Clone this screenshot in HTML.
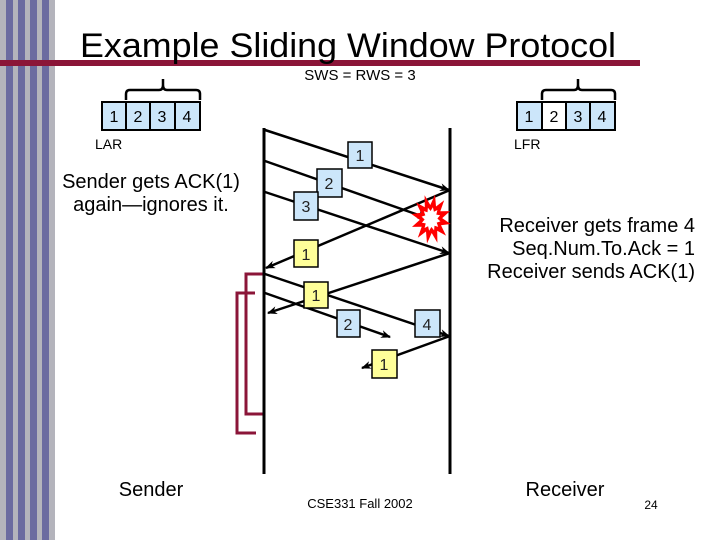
<!DOCTYPE html>
<html><head><meta charset="utf-8"><style>
html,body{margin:0;padding:0;background:#fff;}
svg{display:block;font-family:"Liberation Sans",sans-serif;}
</style></head><body>
<svg id="s" width="720" height="540" viewBox="0 0 720 540" xmlns="http://www.w3.org/2000/svg">
<defs>
<marker id="a" markerWidth="10" markerHeight="8" refX="9" refY="4" orient="auto" markerUnits="userSpaceOnUse"><path d="M0,0 L10,4 L0,8 L3,4 z" fill="#000"/></marker>
</defs>
<rect x="0" y="0" width="55" height="540" fill="#b4b4bc"/>
<rect x="6" y="0" width="7" height="540" fill="#6b6ba0"/>
<rect x="18" y="0" width="7" height="540" fill="#6b6ba0"/>
<rect x="30" y="0" width="7" height="540" fill="#6b6ba0"/>
<rect x="42" y="0" width="7" height="540" fill="#6b6ba0"/>
<rect x="0" y="60" width="640" height="6" fill="#8b1538"/>
<text x="80" y="57" font-size="34" textLength="536" lengthAdjust="spacingAndGlyphs">Example Sliding Window Protocol</text>
<text x="360" y="80" font-size="15" text-anchor="middle">SWS = RWS = 3</text>
<g stroke="#000" stroke-width="2" font-size="16">
<rect x="102" y="102" width="24" height="28" fill="#cce6fa"/>
<rect x="126" y="102" width="24" height="28" fill="#cce6fa"/>
<rect x="150" y="102" width="25" height="28" fill="#cce6fa"/>
<rect x="175" y="102" width="25" height="28" fill="#cce6fa"/>
<rect x="517" y="102" width="25" height="28" fill="#cce6fa"/>
<rect x="542" y="102" width="24" height="28" fill="#fff"/>
<rect x="566" y="102" width="24" height="28" fill="#cce6fa"/>
<rect x="590" y="102" width="25" height="28" fill="#cce6fa"/>
<path d="M126,100 V94 Q126,90 130,90 H159 Q163,90 163,85 V79 M163,85 Q163,90 167,90 H196 Q200,90 200,94 V100" fill="none" stroke-width="2.5"/>
<path d="M542,100 V94 Q542,90 546,90 H574 Q578,90 578,85 V79 M578,85 Q578,90 582,90 H611 Q615,90 615,94 V100" fill="none" stroke-width="2.5"/>
</g>
<g font-size="16" text-anchor="middle">
<text x="114" y="122">1</text><text x="138" y="122">2</text><text x="162" y="122">3</text><text x="187" y="122">4</text>
<text x="529" y="122">1</text><text x="554" y="122">2</text><text x="578" y="122">3</text><text x="602" y="122">4</text>
</g>
<text x="95" y="149" font-size="14">LAR</text>
<text x="514" y="149" font-size="14">LFR</text>
<text x="151" y="188" font-size="20" text-anchor="middle">Sender gets ACK(1)</text>
<text x="151" y="211" font-size="20" text-anchor="middle">again—ignores it.</text>
<text x="695" y="232" font-size="20" text-anchor="end">Receiver gets frame 4</text>
<text x="695" y="255" font-size="20" text-anchor="end">Seq.Num.To.Ack = 1</text>
<text x="695" y="278" font-size="20" text-anchor="end">Receiver sends ACK(1)</text>
<g fill="none" stroke="#8b1538" stroke-width="3">
<path d="M264,274 H246 V414 H264"/>
<path d="M255,293 H237 V433 H256"/>
</g>
<line x1="264" y1="128" x2="264" y2="474" stroke="#000" stroke-width="3"/>
<line x1="450" y1="128" x2="450" y2="474" stroke="#000" stroke-width="3"/>
<g stroke="#000" stroke-width="2.5" marker-end="url(#a)">
<line x1="265" y1="130" x2="449" y2="190"/>
<line x1="265" y1="161" x2="427" y2="218"/>
<line x1="265" y1="192" x2="449" y2="253"/>
<line x1="450" y1="190" x2="266" y2="268"/>
<line x1="265" y1="274" x2="449" y2="336"/>
<line x1="450" y1="253" x2="268" y2="313"/>
<line x1="265" y1="293" x2="390" y2="337"/>
<line x1="450" y1="336" x2="362" y2="368"/>
</g>
<polygon id="star" fill="#f00" points=""/>
<polygon id="star2" fill="#fff" points=""/>
<g stroke="#000" stroke-width="1.5" font-size="16" text-anchor="middle">
<rect x="348" y="142" width="24" height="26" fill="#cce6fa"/>
<rect x="317" y="169" width="25" height="28" fill="#cce6fa"/>
<rect x="294" y="192" width="24" height="28" fill="#cce6fa"/>
<rect x="294" y="240" width="24" height="27" fill="#ffff99"/>
<rect x="304" y="282" width="24" height="26" fill="#ffff99"/>
<rect x="337" y="310" width="23" height="27" fill="#cce6fa"/>
<rect x="415" y="310" width="25" height="27" fill="#cce6fa"/>
<rect x="372" y="350" width="25" height="28" fill="#ffff99"/>
</g>
<g font-size="16" text-anchor="middle" fill="#222">
<text x="360" y="161">1</text><text x="329" y="189">2</text><text x="306" y="212">3</text>
<text x="306" y="260">1</text><text x="316" y="301">1</text><text x="348" y="330">2</text>
<text x="427" y="330">4</text><text x="384" y="370">1</text>
</g>
<text x="151" y="496" font-size="20" text-anchor="middle">Sender</text>
<text x="565" y="496" font-size="20" text-anchor="middle">Receiver</text>
<text x="360" y="508" font-size="13" text-anchor="middle">CSE331 Fall 2002</text>
<text x="651" y="509" font-size="12" text-anchor="middle">24</text>
</svg>
<script>
function st(id,cx,cy,ro,ri,n){var p=[];for(var i=0;i<2*n;i++){var r=i%2?ri:ro;var a=Math.PI*i/n+0.2;p.push((cx+r*Math.cos(a)*0.8).toFixed(1)+","+(cy+r*Math.sin(a)).toFixed(1));}document.getElementById(id).setAttribute("points",p.join(" "));}
st("star",431,219,25,14,12);st("star2",431,219,12,8,12);
</script>
</body></html>
